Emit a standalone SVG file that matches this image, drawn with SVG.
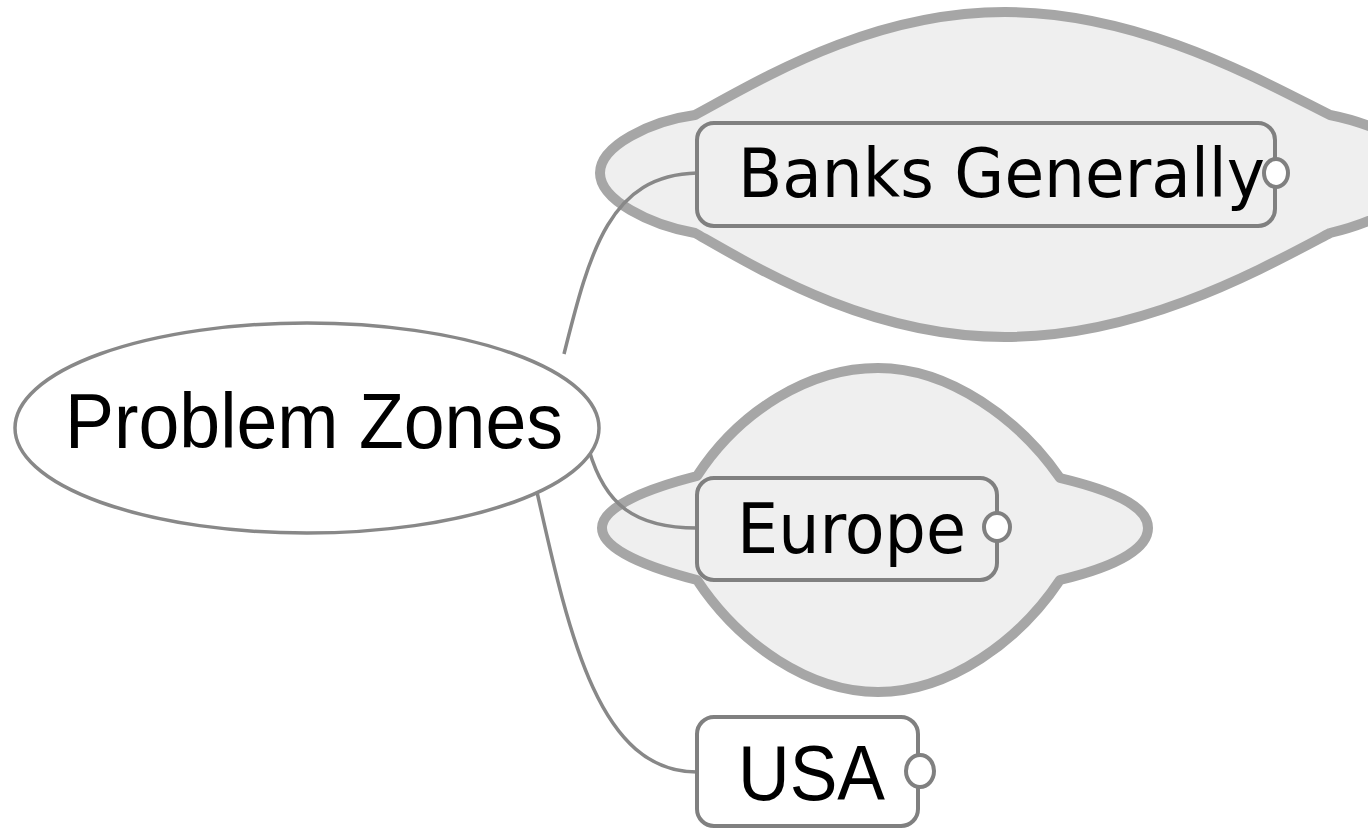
<svg xmlns="http://www.w3.org/2000/svg" width="1368" height="829" viewBox="0 0 1368 829">
<style>
.cloud{fill:#efefef;stroke:#a6a6a6;stroke-width:10;stroke-linejoin:round}
.box{stroke:#808080;stroke-width:4}
.knob{fill:#ffffff;stroke:#808080;stroke-width:4}
.conn{fill:none;stroke:#888888;stroke-width:3.5}
.t1{font-family:"DejaVu Sans",sans-serif;fill:#000}
.t2{font-family:"Liberation Sans",Arial,sans-serif;fill:#000}
</style>
<rect width="1368" height="829" fill="#ffffff"/>
<g id="cloud-banks">
<path class="cloud" d="M695,115 C760,80 870,12 1005,12 C1140,12 1260,80 1330,115 C1380,125 1425,150 1425,173 C1425,196 1380,221 1330,233 C1260,270 1140,337 1005,337 C870,337 760,270 695,233 C650,225 600,200 600,173 C600,146 650,121 695,115 Z"/>
</g>
<g id="cloud-europe">
<path class="cloud" d="M697,476 C740,410 810,368 878,368 C950,368 1020,420 1060,478 C1110,490 1148,505 1148,528 C1148,551 1110,568 1060,580 C1020,640 950,692 878,692 C810,692 740,645 697,580 C650,568 602,550 602,528 C602,506 650,488 697,476 Z"/>
</g>
<g id="connectors">
<path class="conn" d="M564,354 C590,250 610,175 697,173"/>
<path class="conn" d="M589,450 C605,505 635,528 697,528"/>
<path class="conn" d="M537,492 C570,640 600,772 697,772"/>
</g>
<g id="node-problem-zones">
<ellipse cx="307" cy="428" rx="292" ry="105" fill="#ffffff" stroke="#888888" stroke-width="3.5"/>
<text class="t2" x="65" y="448" font-size="78" textLength="498" lengthAdjust="spacingAndGlyphs">Problem Zones</text>
</g>
<g id="node-banks">
<rect class="box" x="697" y="123" width="578" height="103" rx="17" fill="#efefef"/>
<text class="t1" x="738" y="197" font-size="68" textLength="527" lengthAdjust="spacingAndGlyphs">Banks Generally</text>
<ellipse class="knob" cx="1276" cy="173" rx="12" ry="14"/>
</g>
<g id="node-europe">
<rect class="box" x="697" y="478" width="300" height="102" rx="17" fill="#efefef"/>
<text class="t1" x="737" y="553" font-size="70" textLength="229" lengthAdjust="spacingAndGlyphs">Europe</text>
<ellipse class="knob" cx="997" cy="527" rx="13" ry="14"/>
</g>
<g id="node-usa">
<rect class="box" x="697" y="717" width="221" height="109" rx="17" fill="#ffffff"/>
<text class="t2" x="738" y="800" font-size="77" textLength="147" lengthAdjust="spacingAndGlyphs">USA</text>
<ellipse class="knob" cx="920" cy="771" rx="14" ry="16"/>
</g>
</svg>
